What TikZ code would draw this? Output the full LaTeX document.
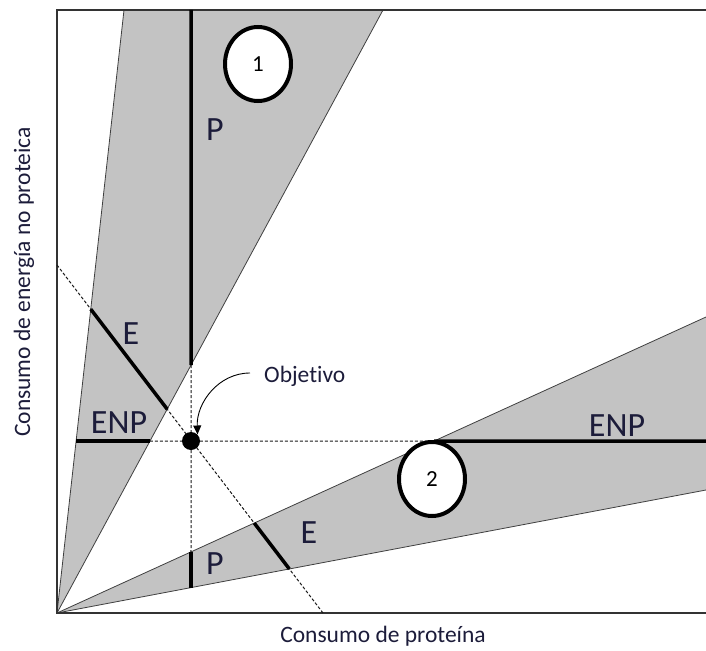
\documentclass[tikz,border=0pt]{standalone}
\usepackage{fontspec}
\setmainfont[Ligatures=NoCommon]{Carlito}
\usetikzlibrary{intersections,arrows.meta,shapes.geometric}
\definecolor{wedge}{HTML}{C3C3C3}
\definecolor{txt}{HTML}{1C1C3A}
\begin{document}
\begin{tikzpicture}[x=1pt,y=-1pt,
  edgeline/.style={draw=black!75, line width=0.8pt},
  heavy/.style={line width=3.5pt, line cap=butt},
  guide/.style={dash pattern=on 3pt off 2pt, line width=1pt, draw=black!90},
  lbl/.style={text=txt, font=\fontsize{34}{38}\selectfont, inner sep=0pt},
  axislbl/.style={text=txt, font=\fontsize{23.5}{27}\selectfont, inner sep=0pt},
  zone/.style={ellipse, draw=black, line width=4pt, fill=white, minimum width=66pt, minimum height=74pt, inner sep=0pt, font=\fontsize{23}{26}\selectfont},
  framestyle/.style={draw=black!80, line width=1.5pt}]
\useasboundingbox (0,0) rectangle (706,650);
% key points
\coordinate (O) at (57,613);
\coordinate (a) at (124,10);
\coordinate (b) at (383,10);
\coordinate (c) at (706,317);
\coordinate (d) at (706,490);
\coordinate (G) at (191,441);
\coordinate (dA) at (57,265);
\coordinate (dB) at (323,613);
\coordinate (Ptop) at (191,10);
\coordinate (hR) at (706,441);
\coordinate (fTR) at (706,10);
\coordinate (fTL) at (57,10);
\coordinate (fBR) at (706,613);
% wedges
\fill[wedge] (O) -- (a) -- (b) -- cycle;
\fill[wedge] (O) -- (c) -- (d) -- cycle;
\draw[edgeline] (O) -- (a);
\draw[edgeline] (O) -- (b);
\draw[edgeline] (O) -- (c);
\draw[edgeline] (O) -- (d);
% intersection paths
\path[name path=w1l] (O) -- (a);
\path[name path=w1r] (O) -- (b);
\path[name path=w2u] (O) -- (c);
\path[name path=w2l] (O) -- (d);
\path[name path=hz] (57,441) -- (706,441);
\path[name path=vt] (191,10) -- (191,613);
\path[name path=dg] (dA) -- (dB);
\path[name intersections={of=w1r and vt, by=pB}];
\path[name intersections={of=w2u and vt, by=q1}];
\path[name intersections={of=w2l and vt, by=q2}];
\path[name intersections={of=w1l and hz, by=h1}];
\path[name intersections={of=w1r and hz, by=h2}];
\path[name intersections={of=w2u and hz, by=h3}];
\path[name intersections={of=w1l and dg, by=e1}];
\path[name intersections={of=w1r and dg, by=e2}];
\path[name intersections={of=w2u and dg, by=e3}];
\path[name intersections={of=w2l and dg, by=e4}];
% frame
\draw[framestyle] (fTR) -- (fTL) -- (O) -- (fBR);
% guides
\draw[guide] (pB) -- (q1);
\draw[guide] (h2) -- (h3);
\draw[guide] (dA) -- (dB);
% heavy segments
\draw[heavy] (Ptop) -- (pB);
\draw[heavy] (q1) -- (q2);
\draw[heavy] (h1) -- (h2);
\draw[heavy] (h3) -- (hR);
\draw[heavy] (e1) -- (e2);
\draw[heavy] (e3) -- (e4);
% goal
\node[circle, fill=black, minimum size=18pt, inner sep=0pt] (goal) at (G) {};
% zones
\node[zone] (z1) at (258,64) {1};
\node[zone] (z2) at (432,479) {2};
% labels
\node[lbl] (lP1) at (215,130) {P};
\node[lbl] (lE1) at (131,334) {E};
\node[lbl] (lENP1) at (119,423) {ENP};
\node[lbl] (lENP2) at (617,426) {ENP};
\node[lbl] (lE2) at (309,533) {E};
\node[lbl] (lP2) at (215,564) {P};
\node[axislbl, anchor=west] (obj) at (264,376) {Objetivo};
\coordinate (arrS) at (250,373);
\draw[line width=0.9pt, -{Triangle[length=9pt,width=8pt]}] (arrS) to[out=180, in=92] (goal.north east);
\node[axislbl] (xl) at (383,636) {Consumo de proteína};
\node[axislbl, rotate=90] (yl) at (24,282) {Consumo de energía no proteica};
\end{tikzpicture}
\end{document}
